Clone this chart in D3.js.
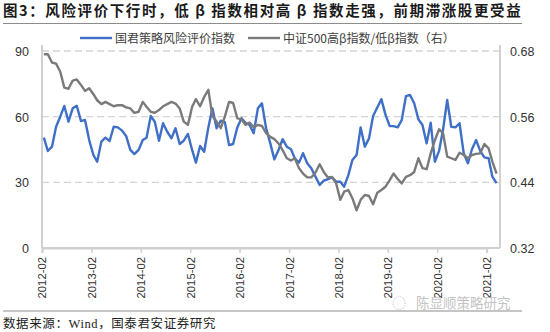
<!DOCTYPE html>
<html><head><meta charset="utf-8">
<script src="https://cdn.jsdelivr.net/npm/d3@7"></script>
<style>
html,body{margin:0;padding:0;background:#fff;}
svg{display:block;}
</style></head>
<body>
<svg id="c" width="550" height="332"></svg>
<script>
const startMonth = [2012, 1]; // 2012-02, monthly observations
const riskIndex = [50.4,44.3,46.3,55.4,60.0,64.9,57.7,63.8,65.0,58.0,58.5,49.3,42.5,39.4,48.6,50.4,48.9,55.4,55.1,53.6,
51.2,44.8,42.9,44.8,49.3,50.4,60.3,57.7,49.0,57.0,53.1,50.1,54.7,47.5,49.0,52.1,44.8,39.0,46.6,44.0,
55.1,63.8,54.7,58.2,57.5,47.0,47.5,55.1,59.3,57.2,56.2,52.4,63.8,66.1,54.7,47.8,40.5,44.8,49.7,46.3,
45.1,41.0,39.0,43.3,38.7,36.4,32.6,28.8,30.8,31.4,32.3,30.3,30.3,28.0,33.3,40.2,42.5,55.1,46.3,50.1,
60.3,64.2,68.0,60.8,55.7,55.7,55.1,58.5,69.4,69.9,66.1,58.8,56.2,47.8,57.2,39.4,44.4,53.9,67.6,55.4,
55.1,57.0,43.3,38.7,45.1,49.3,44.4,41.4,41.0,32.6,29.6];
const betaRatio = [0.674,0.674,0.659,0.657,0.642,0.613,0.611,0.626,0.628,0.618,0.607,0.612,0.601,0.590,0.583,0.587,0.583,0.579,0.581,0.581,
0.577,0.575,0.567,0.569,0.587,0.578,0.569,0.567,0.572,0.579,0.583,0.587,0.584,0.575,0.551,0.545,0.578,0.592,0.579,0.596,
0.609,0.561,0.551,0.539,0.560,0.587,0.585,0.557,0.555,0.545,0.549,0.541,0.545,0.543,0.530,0.523,0.519,0.511,0.499,0.484,
0.480,0.484,0.466,0.456,0.449,0.449,0.458,0.473,0.459,0.449,0.450,0.438,0.408,0.423,0.426,0.411,0.389,0.408,0.417,0.415,
0.400,0.421,0.426,0.432,0.444,0.456,0.446,0.438,0.450,0.453,0.459,0.484,0.466,0.464,0.493,0.517,0.537,0.530,0.487,0.484,
0.481,0.494,0.490,0.484,0.490,0.492,0.493,0.510,0.502,0.478,0.456];
const xTickLabels = ["2012-02","2013-02","2014-02","2015-02","2016-02","2017-02","2018-02","2019-02","2020-02","2021-02"];
const leftTicks = [0,30,60,90];
const rightTicks = [0.32,0.44,0.56,0.68];
const seriesNames = ["国君策略风险评价指数","中证500高β指数/低β指数（右）"];
const title = "图3：风险评价下行时，低 β 指数相对高 β 指数走强，前期滞涨股更受益";
const source = "数据来源：Wind，国泰君安证券研究";
const watermark = "陈显顺策略研究";

const svg = d3.select("#c");
const L = 42, R = 500, T = 51, B = 248;
const parse = d3.timeParse("%Y-%m");
const dates = riskIndex.map((_, i) => new Date(startMonth[0], startMonth[1] + i, 15));
const x = d3.scaleTime().domain([parse("2012-02"), parse("2021-02")]).range([L, 486.7]);
const yL = d3.scaleLinear().domain([0, 90]).range([B, T]);
const yR = d3.scaleLinear().domain([0.32, 0.68]).range([B, T]);

// title
svg.append("text").attr("x", 3).attr("y", 15.5).attr("font-family", "Noto Sans CJK SC").attr("font-weight", "bold")
  .attr("font-size", 14.5).attr("letter-spacing", 1.6).attr("fill", "#1a1a1a").text(title);
svg.append("line").attr("x1", 3).attr("x2", 522).attr("y1", 23.5).attr("y2", 23.5).attr("stroke", "#8c8c8c").attr("stroke-width", 1.2);

// grid
svg.append("g").selectAll("line").data(leftTicks.filter(d => d > 0)).join("line")
  .attr("x1", L).attr("x2", R).attr("y1", d => yL(d)).attr("y2", d => yL(d))
  .attr("stroke", "#d4d4d4").attr("stroke-width", 1.3).attr("stroke-dasharray", "7,4");

// axes
const axisColor = "#d0d0d0";
const gL = svg.append("g").attr("transform", `translate(${L},0)`)
  .call(d3.axisLeft(yL).tickValues(leftTicks).tickSize(4).tickFormat(d3.format("d")));
const gR = svg.append("g").attr("transform", `translate(${R},0)`)
  .call(d3.axisRight(yR).tickValues(rightTicks).tickSize(4).tickFormat(d3.format(".2f")));
const gB = svg.append("g").attr("transform", `translate(0,${B})`)
  .call(d3.axisBottom(x).tickValues(xTickLabels.map(parse)).tickSize(5).tickFormat(d3.timeFormat("%Y-%m")));
svg.append("line").attr("x1", L).attr("x2", R).attr("y1", B).attr("y2", B).attr("stroke", axisColor).attr("stroke-width", 2);
[gL, gR, gB].forEach(g => {
  g.select(".domain").attr("stroke", axisColor).attr("stroke-width", 2);
  g.selectAll(".tick line").attr("stroke", axisColor).attr("stroke-width", 1.5);
  g.selectAll("text").attr("font-family", "Liberation Sans, Arial").attr("fill", "#333");
});
gL.select(".domain").attr("d", `M0,${B}V${T - 6}`);
gR.select(".domain").attr("d", `M0,${B}V${T - 6}`);
gL.selectAll(".tick line").remove();
gR.selectAll(".tick line").remove();
gL.selectAll("text").attr("font-size", 12.5).attr("x", -13).attr("dy", "0.35em");
gR.selectAll("text").attr("font-size", 12.5).attr("x", 10).attr("dy", "0.35em");
gB.selectAll("text").attr("font-size", 11.3).attr("transform", "rotate(-90)")
  .attr("text-anchor", "end").attr("x", -9).attr("y", 0).attr("dy", "0.35em");

// lines
const lineL = d3.line().x((d, i) => x(dates[i])).y(d => yL(d));
const lineR = d3.line().x((d, i) => x(dates[i])).y(d => yR(d));
svg.append("path").datum(riskIndex).attr("d", lineL).attr("fill", "none")
  .attr("stroke", "#3f6fc6").attr("stroke-width", 2.4).attr("stroke-linejoin", "round");
svg.append("path").datum(betaRatio).attr("d", lineR).attr("fill", "none")
  .attr("stroke", "#7a7a7a").attr("stroke-width", 2.4).attr("stroke-linejoin", "round");

// legend
const leg = [{x: 80, c: "#3f6fc6", t: seriesNames[0]}, {x: 248, c: "#7a7a7a", t: seriesNames[1]}];
leg.forEach(l => {
  svg.append("line").attr("x1", l.x).attr("x2", l.x + 32).attr("y1", 38).attr("y2", 38).attr("stroke", l.c).attr("stroke-width", 2.4);
  svg.append("text").attr("x", l.x + 35).attr("y", 42.5).attr("font-family", "Noto Sans CJK SC").attr("font-size", 12)
    .attr("fill", "#404040").text(l.t);
});

// footer
svg.append("line").attr("x1", 3).attr("x2", 522).attr("y1", 311).attr("y2", 311).attr("stroke", "#8c8c8c").attr("stroke-width", 1.2);
svg.append("text").attr("x", 416).attr("y", 308).attr("font-family", "Noto Sans CJK SC").attr("font-size", 13.5)
  .attr("fill", "#c4c4c4").text(watermark);
svg.append("text").attr("x", 392).attr("y", 308).attr("font-family", "Noto Sans CJK SC").attr("font-size", 14)
  .attr("fill", "#cccccc").text("◌");
svg.append("text").attr("x", 3).attr("y", 328).attr("font-family", "Liberation Serif, Noto Sans CJK SC").attr("font-size", 12.5)
  .attr("letter-spacing", 0.6).attr("fill", "#222").text(source);
</script>
</body></html>
